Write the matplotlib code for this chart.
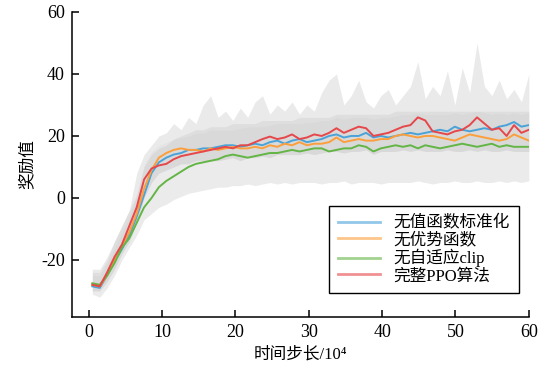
import numpy as np
import matplotlib
matplotlib.use('Agg')
import matplotlib.pyplot as plt

plt.rcParams['font.family'] = ['Liberation Serif', 'Noto Sans CJK SC']
plt.rcParams['axes.unicode_minus'] = False

# time steps (x 10^4)
steps = np.linspace(0.5, 60, 60)

red = [-28, -28.5, -24, -19, -15, -9, -3, 6, 9.5, 10.5, 11, 12.5, 13.5, 14, 14.5, 15, 15.5, 16, 16.5, 16,
       17, 17, 18, 19, 19.8, 19, 19.5, 20.5, 19, 19.5, 20.5, 20, 21, 22.5, 21, 22, 23, 22.5, 20, 20.5,
       21, 22, 23, 23.5, 26, 25, 21.5, 21, 20.5, 21.5, 22, 23.5, 26, 24, 22, 22.5, 20, 23.5, 21, 22]
blue = [-28.5, -29, -25, -20.5, -16.5, -12, -6, 1, 8, 11.5, 13, 14, 14.5, 15.5, 15.5, 16, 16, 16.5, 17, 17,
        16.5, 17, 17.5, 17, 18, 18.5, 17.5, 18.5, 19, 18, 18.5, 19, 20, 20.5, 19.5, 20, 20, 21, 19.5, 20,
        19.5, 20, 20.5, 21, 20.5, 21, 21.5, 22, 21.5, 23, 22, 21.5, 22, 22.5, 22, 23, 23.5, 24.5, 23, 23.5]
orange = [-28, -28.5, -25, -20, -15.5, -11, -5, 3, 9, 13, 14.5, 15.5, 16, 15.5, 15.5, 15, 16, 15.5, 16, 16.5,
          16, 16, 16.5, 16, 17, 16.5, 17.5, 17, 18, 17, 17.5, 17.5, 18, 19.5, 18, 18.5, 19, 18.5, 18.5, 19,
          19, 20, 20.5, 20, 19.5, 20, 20, 19.5, 19, 18.5, 19.5, 20.5, 20, 19.5, 19, 18.5, 19, 20.5, 19.5, 18.5]
green = [-27.5, -28, -25, -21, -16, -13, -8, -3, 0, 3.5, 5.5, 7, 8.5, 10, 11, 11.5, 12, 12.5, 13.5, 14,
         13.5, 13, 13.5, 14, 14.5, 14.5, 15, 15.5, 15, 15.5, 16, 16, 15, 15.5, 16, 16, 17, 16.5, 15, 16,
         16.5, 17, 16.5, 17, 16, 17, 16.5, 16, 16.5, 17, 17.5, 17, 16.5, 17, 17.5, 16.5, 17, 16.5, 16.5, 16.5]

# spread of the individual runs
band_lo = [-31, -32, -29, -25, -20, -16, -12, -7, -5, -3, -2, -0.5, 0.5, 1.5, 2, 2.5, 3, 3.5, 3.5, 4,
           4, 4.5, 4, 4.5, 5, 4.5, 5, 4.5, 5, 5, 5, 4.5, 5, 5, 5.5, 4.5, 5, 5, 5, 4.5,
           5, 5, 5, 5, 5.5, 5, 4.5, 5, 5, 5.5, 5, 5, 5.5, 5, 5, 5.5, 5, 5.5, 5, 5.5]
band_hi = [-24, -24, -20, -14, -9, -4, 1, 10, 14, 16, 17, 19, 20, 21, 22, 22, 23, 23, 23, 24,
           24, 24, 24, 25, 25, 25, 25, 25, 26, 26, 26, 26, 26, 27, 27, 27, 27, 27, 27, 27,
           27, 28, 28, 28, 28, 28, 28, 28, 28, 28, 28, 28, 28, 28, 28, 28, 28, 28, 28, 28]
core_lo = [-30, -30, -27, -23, -18, -14, -8, 0, 5, 8, 9, 10, 11, 11, 12, 12, 12, 12, 12.5, 13,
           12, 13, 13, 13.5, 13, 14, 14, 14, 14, 14.5, 14, 14.5, 15, 15, 14.5, 15, 15, 15.5, 14, 15,
           15, 15, 15.5, 15, 15.5, 15, 15, 15, 15.5, 15, 15, 15.5, 15, 15.5, 15, 15, 15.5, 15, 15, 15]
core_hi = [-25, -25, -21, -16, -11, -6, 1, 11, 15, 17, 18, 19, 19.5, 20, 21, 21, 22, 22, 22, 22,
           22.5, 23, 23, 23, 23.5, 24, 24, 24, 24, 24.5, 24.5, 25, 25, 26, 25.5, 26, 26, 26, 25.5, 26,
           26, 26.5, 27, 27, 27.5, 27, 27, 27, 27, 27.5, 27, 27.5, 28, 27.5, 27, 27.5, 27, 27.5, 27, 27.5]
spikes = [-23, -23, -19, -14, -9, -4, 8, 14, 17, 20, 21, 24, 22, 26, 24, 30, 33, 26, 28, 25,
          29, 26, 31, 33, 27, 30, 28, 31, 27, 30, 28, 34, 38, 40, 30, 33, 38, 31, 29, 33,
          35, 30, 33, 36, 44, 32, 36, 33, 41, 30, 42, 34, 50, 36, 33, 38, 32, 35, 31, 40]

labels = ['无值函数标准化', '无优势函数', '无自适应clip', '完整PPO算法']
colors = ['#4aa3d8', '#fb9f3c', '#63b545', '#e6474a']

fig = plt.figure(figsize=(5.48, 3.73), dpi=100)
ax = fig.add_axes([0.131, 0.150, 0.834, 0.818])

ax.fill_between(steps, band_lo, band_hi, color='#ebebeb', lw=0)
ax.fill_between(steps, core_lo, core_hi, color='#c4c4c4', alpha=0.45, lw=0)
ax.fill_between(steps, core_hi, spikes, color='#cccccc', alpha=0.4, lw=0)

for s, c, lab in zip([blue, orange, green, red], colors, labels):
    ax.plot(steps, s, color=c, lw=1.4, label=lab)

ax.set_xlim(-2.3, 60)
ax.set_ylim(-38.4, 60)
ax.set_xticks([0, 10, 20, 30, 40, 50, 60])
ax.set_yticks([-20, 0, 20, 40, 60])
for side in ['top', 'right']:
    ax.spines[side].set_visible(False)
for side in ['left', 'bottom']:
    ax.spines[side].set_linewidth(1.1)
ax.tick_params(direction='in', length=5, width=1.1, labelsize=13, pad=5)

ax.set_xlabel('时间步长/10⁴', fontsize=12)
ax.set_ylabel('奖励值', fontsize=12)

leg = ax.legend(loc='lower right', bbox_to_anchor=(0.996, 0.05), fontsize=12,
                frameon=True, fancybox=False, edgecolor='black', framealpha=1,
                handlelength=2.5, labelspacing=0.05, borderpad=0.55)
leg.get_frame().set_linewidth(1.0)
for h in leg.legend_handles:
    h.set_alpha(0.6)
    h.set_linewidth(2)

fig.savefig('out.png', dpi=100)
